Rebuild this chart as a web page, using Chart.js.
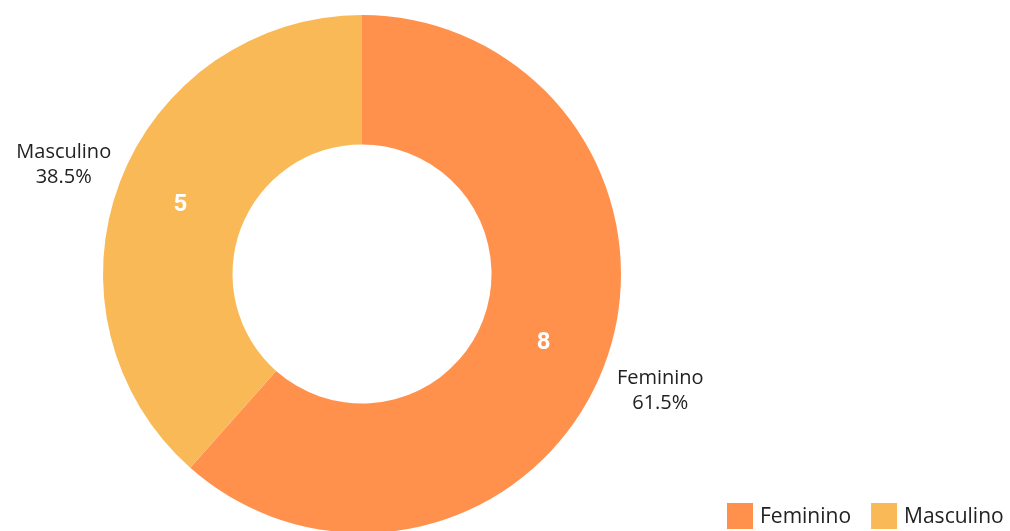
<!DOCTYPE html>
<html>
<head>
<meta charset="utf-8">
<script src="https://cdn.jsdelivr.net/npm/chart.js@4/dist/chart.umd.min.js"></script>
<style>
  html, body { margin: 0; padding: 0; background: #fff; width: 1010px; height: 531px; overflow: hidden; }
  #wrap { width: 1010px; height: 540px; }
</style>
</head>
<body>
<div id="wrap"><canvas id="genderChart" width="1010" height="540"></canvas></div>
<script>
// Gender split
var categories = ['Feminino', 'Masculino'];
var counts = [8, 5];
var sliceColors = ['#FF914D', '#FAB957'];

// value inside each slice + name/percentage outside + legend in the corner
var sliceLabels = {
    id: 'sliceLabels',
    afterDraw: function (chart) {
        var ctx = chart.ctx;
        var meta = chart.getDatasetMeta(0);
        var total = counts.reduce(function (a, b) { return a + b; }, 0);
        ctx.save();
        meta.data.forEach(function (arc, i) {
            var mid = (arc.startAngle + arc.endAngle) / 2;
            var r = (arc.innerRadius + arc.outerRadius) / 2;
            ctx.fillStyle = '#fff';
            ctx.font = 'bold 24px Roboto';
            ctx.textAlign = 'center';
            ctx.textBaseline = 'middle';
            ctx.fillText(String(counts[i]), arc.x + Math.cos(mid) * r, arc.y + Math.sin(mid) * r);

            var ro = arc.outerRadius + 60;
            var ox = arc.x + Math.cos(mid) * ro;
            var oy = arc.y + Math.sin(mid) * ro;
            ctx.fillStyle = '#222';
            ctx.font = '20px "Open Sans"';
            ctx.fillText(categories[i], ox, oy - 9);
            ctx.fillText((counts[i] / total * 100).toFixed(1) + '%', ox, oy + 16);
        });

        // legend
        ctx.font = '21px "Open Sans"';
        ctx.textAlign = 'left';
        ctx.textBaseline = 'middle';
        var x = 727, y = 516;
        categories.forEach(function (name, i) {
            ctx.fillStyle = sliceColors[i];
            ctx.fillRect(x, y - 13, 26, 26);
            ctx.fillStyle = '#222';
            ctx.fillText(name, x + 33, y + 1);
            x += 33 + ctx.measureText(name).width + 20;
        });
        ctx.restore();
    }
};

var genderChart = new Chart(document.getElementById('genderChart').getContext('2d'), {
    type: 'doughnut',
    data: {
        labels: categories,
        datasets: [{
            data: counts,
            backgroundColor: sliceColors,
            borderWidth: 0,
            hoverOffset: 0
        }]
    },
    options: {
        responsive: false,
        animation: false,
        cutout: '50%',
        layout: { padding: { top: 15, left: 103, right: 389, bottom: 7 } },
        plugins: {
            legend: { display: false },
            tooltip: { enabled: false }
        }
    },
    plugins: [sliceLabels]
});
</script>
</body>
</html>
